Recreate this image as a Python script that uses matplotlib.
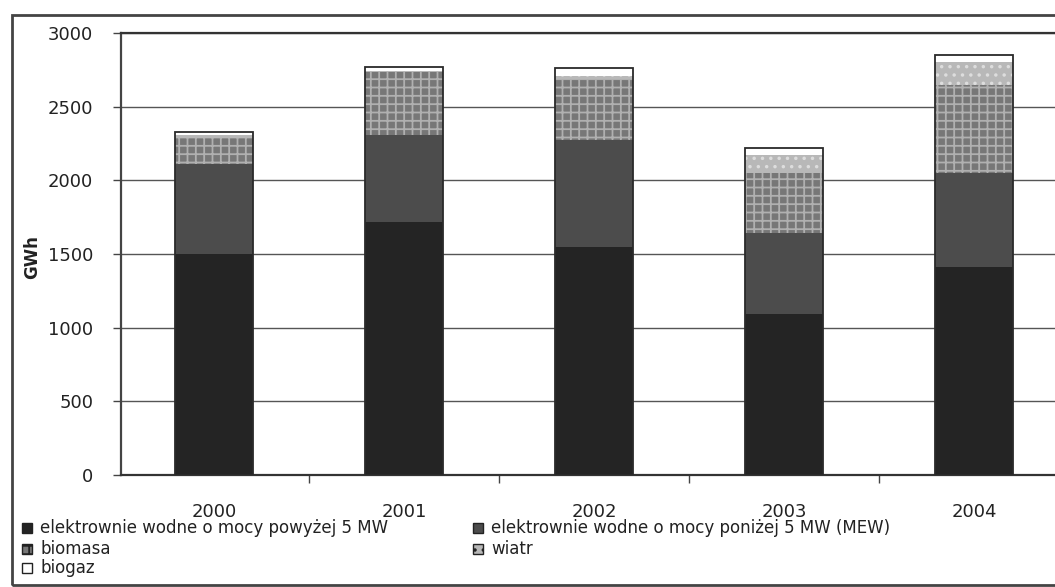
import matplotlib
matplotlib.use("Agg")
import matplotlib.pyplot as plt
from matplotlib.patches import Rectangle
import numpy as np

years = ["2000", "2001", "2002", "2003", "2004"]
hydro_big = [1500, 1718, 1548, 1090, 1412]
hydro_small = [611, 590, 726, 553, 638]
biomasa = [179, 428, 411, 407, 598]
wiatr = [15, 6, 25, 122, 156]
biogaz = [23, 28, 53, 48, 47]

labels = ["elektrownie wodne o mocy powyżej 5 MW",
          "elektrownie wodne o mocy poniżej 5 MW (MEW)",
          "biomasa", "wiatr", "biogaz"]
series = [hydro_big, hydro_small, biomasa, wiatr, biogaz]
faces = ["#242424", "#4c4c4c", "#777777", "#b8b8b8", "#ffffff"]
hatches = [None, None, "++", "..", None]
hatchcols = ["#242424", "#4c4c4c", "#b0b0b0", "#dddddd", "#ffffff"]

plt.rcParams['font.family'] = ['DejaVu Sans']
plt.rcParams['hatch.linewidth'] = 1.3

fig = plt.figure(figsize=(10.55, 5.87), dpi=100)
W, H = 1055, 587
ax = fig.add_axes([121 / W, (H - 475) / H, (1069 - 121) / W, (475 - 33) / H])

x = np.arange(len(years))
width = 0.41
bottom = np.zeros(len(years))
for vals, fc, h, hc in zip(series, faces, hatches, hatchcols):
    ax.bar(x, vals, width, bottom=bottom, color=fc, edgecolor=hc,
           hatch=h, linewidth=0, zorder=3)
    bottom += np.array(vals)
# outline of each stacked bar
ax.bar(x, bottom, width, fill=False, edgecolor="#2a2a2a", linewidth=1.3, zorder=4)

ax.set_xlim(-0.489, 4.5)
ax.set_ylim(0, 3000)
ax.set_yticks(np.arange(0, 3001, 500))
ax.yaxis.grid(True, color="#555555", linewidth=1.0, zorder=0)
ax.set_axisbelow(True)

ax.set_xticks(x)
ax.set_xticklabels(years, fontsize=13, color="#222222")
ax.tick_params(axis="x", which="major", length=0, pad=20)
ax.set_xticks(x[:-1] + 0.5, minor=True)
ax.tick_params(axis="x", which="minor", length=6, color="#444444", width=1)
ax.tick_params(axis="y", length=6, color="#444444", width=1, pad=14,
               labelsize=13, labelcolor="#222222")

ax.spines["right"].set_visible(False)
ax.spines["top"].set_color("#333333")
ax.spines["top"].set_linewidth(1.6)
ax.spines["left"].set_color("#444444")
ax.spines["left"].set_linewidth(1.6)
ax.spines["bottom"].set_color("#333333")
ax.spines["bottom"].set_linewidth(1.6)

fig.text(32 / W, 1 - 257 / H, "GWh", rotation=90, ha="center", va="center",
         fontsize=12, fontweight="bold", color="#222222")

# outer frame
fig.patches.append(Rectangle((12 / W, 2 / H), 1.2, (585 - 15) / H,
                             transform=fig.transFigure, fill=False,
                             edgecolor="#444444", linewidth=2))

# legend (manual, two columns)
order = [0, 2, 4, 1, 3]
pos = [(22, 528), (22, 549), (22, 568), (473, 528), (473, 549)]
for idx, (px, py) in zip(order, pos):
    fig.patches.append(Rectangle((px / W, 1 - (py + 5) / H), 10 / W, 10 / H,
                                 transform=fig.transFigure,
                                 facecolor=faces[idx], edgecolor="#222222",
                                 hatch=hatches[idx], linewidth=1))
    fig.text((px + 18) / W, 1 - py / H, labels[idx], ha="left", va="center",
             fontsize=12, color="#222222")

fig.savefig("out.png", dpi=100)
